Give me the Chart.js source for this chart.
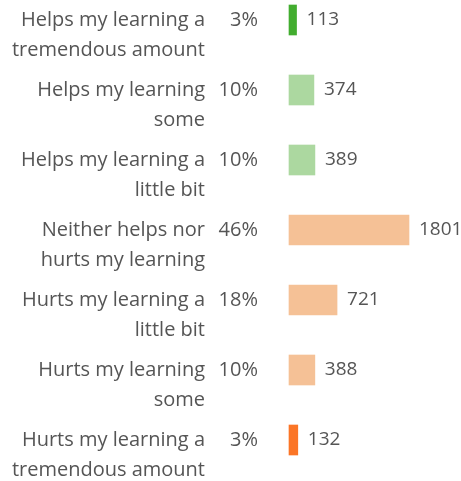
<!DOCTYPE html>
<html>
<head>
<meta charset="utf-8">
<script src="https://cdn.jsdelivr.net/npm/chart.js@4"></script>
<style>
    html, body { margin: 0; padding: 0; background: #ffffff; }
    #wrap { position: relative; width: 461px; height: 481px; }
</style>
</head>
<body>
<div id="wrap"><canvas id="chart"></canvas></div>
<script>
// 回答カテゴリ（2行表示）
const categories = [
    ['Helps my learning a', 'tremendous amount'],
    ['Helps my learning', 'some'],
    ['Helps my learning a', 'little bit'],
    ['Neither helps nor', 'hurts my learning'],
    ['Hurts my learning a', 'little bit'],
    ['Hurts my learning', 'some'],
    ['Hurts my learning a', 'tremendous amount'],
];
const counts = [113, 374, 389, 1801, 721, 388, 132];
const percents = ['3%', '10%', '10%', '46%', '18%', '10%', '3%'];
const barColors = ['#42ad2f', '#acd8a0', '#acd8a0', '#f5c196', '#f5c196', '#f5c196', '#fb7526'];

const textColor = '#555555';
const fontFamily = '"Open Sans", Lato, sans-serif';

// ラベル・割合・件数をスケール位置から描画
const rowLabels = {
    id: 'rowLabels',
    afterDatasetsDraw(chart) {
        const ctx = chart.ctx;
        const yScale = chart.scales.y;
        const meta = chart.getDatasetMeta(0);
        ctx.save();
        ctx.fillStyle = textColor;
        ctx.textBaseline = 'middle';
        categories.forEach((lines, i) => {
            const y = yScale.getPixelForValue(i);
            ctx.font = '20px ' + fontFamily;
            ctx.textAlign = 'right';
            lines.forEach((line, j) => ctx.fillText(line, 205, y + j * 30));
            ctx.fillText(percents[i], 258, y);
            ctx.font = '19px ' + fontFamily;
            ctx.textAlign = 'left';
            ctx.fillText(String(counts[i]), meta.data[i].x + 10, y);
        });
        ctx.restore();
    },
};

new Chart(document.getElementById('chart'), {
    type: 'bar',
    data: {
        labels: categories.map((c) => c.join(' ')),
        datasets: [
            {
                data: counts,
                backgroundColor: barColors,
                borderWidth: 0,
                barThickness: 30,
                clip: false,
            },
        ],
    },
    options: {
        indexAxis: 'y',
        responsive: true,
        maintainAspectRatio: false,
        animation: false,
        layout: { padding: { left: 289, right: 52, top: 20, bottom: 41 } },
        scales: {
            x: { display: false, min: 0, max: 1801 },
            y: { display: false, offset: false },
        },
        plugins: {
            legend: { display: false },
            tooltip: { enabled: false },
        },
    },
    plugins: [rowLabels],
});
</script>
</body>
</html>
